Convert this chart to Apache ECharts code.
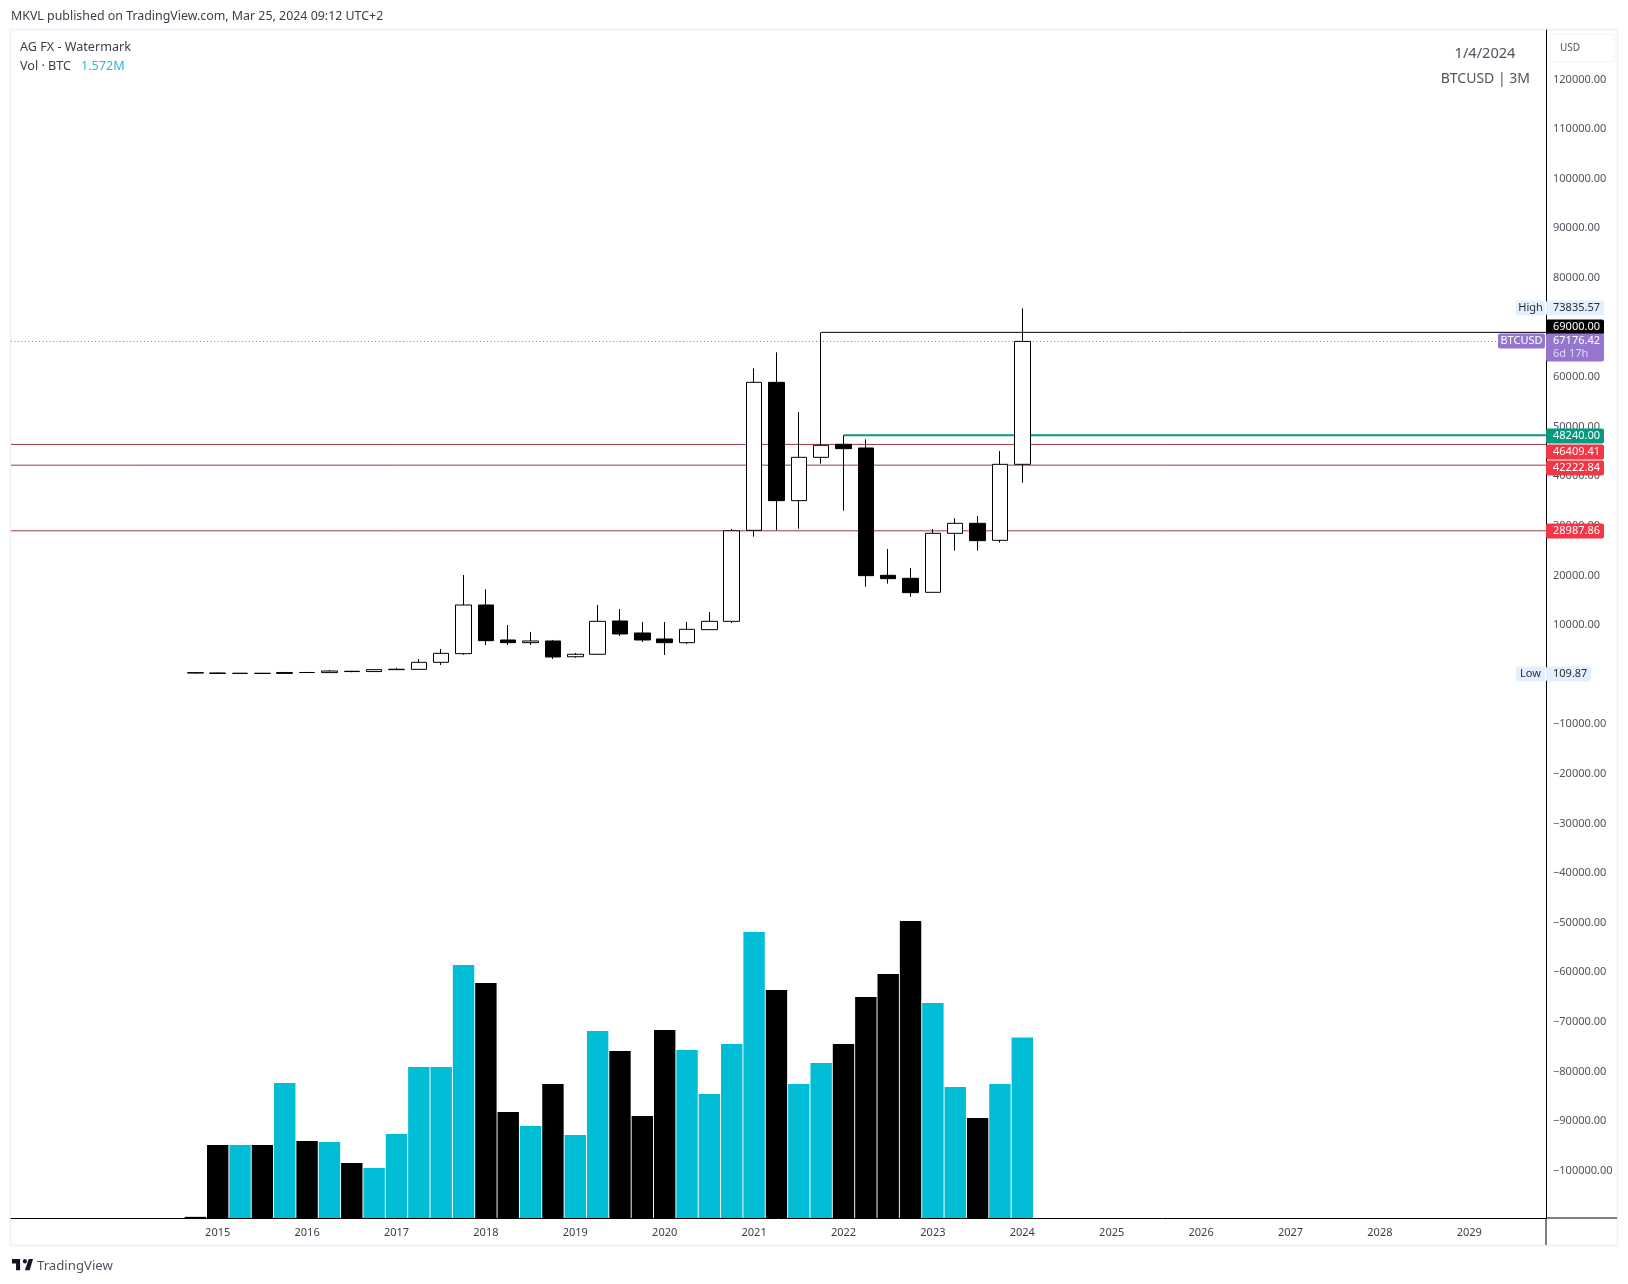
<!DOCTYPE html>
<html>
<head>
<meta charset="utf-8">
<title>BTCUSD 3M</title>
<script src="https://cdn.jsdelivr.net/npm/echarts@6/dist/echarts.min.js"></script>
<style>
  html, body { margin: 0; padding: 0; background: #fff; }
  #main { width: 1628px; height: 1284px; }
</style>
</head>
<body>
<div id="main"></div>
<script>
// quarters as decimal years, 2014.75 is Q4 2014
const quarters = [
  2014.75,
  2015, 2015.25, 2015.5, 2015.75,
  2016, 2016.25, 2016.5, 2016.75,
  2017, 2017.25, 2017.5, 2017.75,
  2018, 2018.25, 2018.5, 2018.75,
  2019, 2019.25, 2019.5, 2019.75,
  2020, 2020.25, 2020.5, 2020.75,
  2021, 2021.25, 2021.5, 2021.75,
  2022, 2022.25, 2022.5, 2022.75,
  2023, 2023.25, 2023.5, 2023.75,
  2024
]

const opens = [
  380, 320, 245, 265, 236, 430, 400, 670, 610, 1000, 1063, 2475, 4222,
  14033, 6977, 6440, 6775, 3600, 4100, 10807, 8389, 7179, 6440, 9060,
  10740, 29089, 58926, 35070, 43806, 46426, 45687, 20017, 19412,
  16590, 28484, 30500, 27073, 42394
]
const closes = [
  320, 245, 265, 236, 430, 416, 720, 610, 1000, 1080, 2475, 4289, 14033,
  6843, 6440, 6775, 3550, 4100, 10740, 8187, 6977, 6440, 9127, 10740,
  29000, 58926, 35070, 43806, 46225, 45552, 19950, 19345, 16522,
  28484, 30500, 27006, 42394, 67176
]
const lows = [
  250, 180, 200, 200, 210, 360, 360, 480, 590, 880, 1000, 1940, 4000,
  5969, 5969, 5969, 3147, 3400, 3950, 7784, 6574, 3953, 6170, 9060,
  10400, 27812, 29089, 29425, 42528, 33054, 17731, 18337, 15716,
  16590, 24990, 24990, 26602, 38698
]
const highs = [
  480, 430, 300, 320, 470, 470, 930, 770, 1100, 1350, 3147, 5163, 20081,
  17191, 10001, 8590, 6977, 4356, 14033, 13227, 10606, 10606, 10606, 12622,
  29358, 61748, 64974, 52945, 69000, 48240, 47435, 25326, 21495,
  29358, 31508, 31978, 45082, 73835
]

// volume in millions, the last one is the 1.572M from the legend
const volumes = [
  0.01, 0.636, 0.636, 0.636, 1.176, 0.671, 0.662, 0.479, 0.436, 0.732,
  1.316, 1.316, 2.205, 2.048, 0.924, 0.802, 1.168, 0.723, 1.63, 1.455,
  0.889, 1.638, 1.464, 1.081, 1.516, 2.492, 1.987, 1.168, 1.351, 1.516,
  1.926, 2.126, 2.588, 1.874, 1.142, 0.871, 1.168, 1.572
]

const yearTicks = [2015, 2016, 2017, 2018, 2019, 2020, 2021, 2022, 2023, 2024, 2025, 2026, 2027, 2028, 2029]
const priceTicks = [
  120000, 110000, 100000, 90000, 80000, 60000, 50000, 40000, 30000, 20000, 10000,
  -10000, -20000, -30000, -40000, -50000, -60000, -70000, -80000, -90000, -100000
]

const redLevels = [46409.41, 42222.84, 28987.86]
const resistance = 69000
const resistanceFrom = 2021.75
const support = 48240
const supportFrom = 2022
const lastPrice = 67176.42
const highPrice = 73835.57
const lowPrice = 109.87

const xMin = 2012.688
const xMax = 2029.858
const yMin = -109556
const yMax = 129960
const volMax = 10.352

const black = "#000000"
const cyan = "#00bcd4"
const red = "#9c3a44"
const tagRed = "#f23645"
const green = "#089981"
const purple = "#9575cd"
const pale = "#e3effd"
const panelEdge = "#f0f3fa"
const textColor = "#3a3e49"
const font = "'Noto Sans', sans-serif"

const money = v => v.toFixed(2)

// [price, text, side text, second line, bg, fg, offset from the price, box width]
const tags = [
  [highPrice, money(highPrice), "High", "", pale, "#2a2e39", 0, 58],
  [resistance, money(resistance), "", "", black, "#ffffff", -5.5, 58],
  [lastPrice, money(lastPrice), "BTCUSD", "6d 17h", purple, "#ffffff", 0, 58],
  [support, money(support), "", "", green, "#ffffff", 1, 58],
  [redLevels[0], money(redLevels[0]), "", "", tagRed, "#ffffff", 7.5, 58],
  [redLevels[1], money(redLevels[1]), "", "", tagRed, "#ffffff", 2.5, 58],
  [redLevels[2], money(redLevels[2]), "", "", tagRed, "#ffffff", 0, 58],
  [lowPrice, money(lowPrice), "Low", "", pale, "#2a2e39", 0, 45]
]

const renderTag = (params, api) => {
  const t = tags[params.dataIndex]
  const p = api.coord([xMax, t[0]])
  const x = Math.round(p[0])
  const cy = Math.round(p[1] + t[6])
  const two = !!t[3]
  const h = two ? 28 : 15
  const top = cy - 7.5
  const kids = [
    { type: "rect", shape: { x: x, y: top, width: t[7], height: h, r: 2 }, style: { fill: t[4] } },
    { type: "text", style: { x: x + 7, y: cy, text: t[1], fill: t[5], font: "11px " + font, textVerticalAlign: "middle" } }
  ]
  if (two) {
    kids.push({ type: "text", style: { x: x + 7, y: cy + 13, text: t[3], fill: "#e3d9f5", font: "11px " + font, textVerticalAlign: "middle" } })
  }
  if (t[2]) {
    const w = t[2] === "BTCUSD" ? 47 : 29
    kids.push({ type: "rect", shape: { x: x - w - 1, y: top, width: w, height: 15, r: 2 }, style: { fill: t[4] } })
    kids.push({ type: "text", style: { x: x - w / 2 - 1, y: cy, text: t[2], fill: t[5], font: "11px " + font, textAlign: "center", textVerticalAlign: "middle" } })
  }
  return { type: "group", children: kids }
}

const levelLine = (name, from, level, color, width, type) => ({
  name: name,
  type: "line",
  xAxisIndex: 0,
  yAxisIndex: 0,
  z: 1,
  silent: true,
  symbol: "none",
  animation: false,
  lineStyle: { color: color, width: width, type: type || "solid" },
  data: [[from, level], [xMax, level]]
})

const chart = echarts.init(document.getElementById("main"))

chart.setOption({
  animation: false,
  backgroundColor: "#ffffff",
  textStyle: { fontFamily: font },
  grid: { left: 11, top: 30, width: 1535, height: 1188, containLabel: false },
  xAxis: {
    type: "value",
    min: xMin,
    max: xMax,
    splitLine: { show: false },
    axisLine: { show: true, onZero: false, lineStyle: { color: black, width: 1 } },
    axisTick: { show: false },
    axisLabel: {
      customValues: yearTicks,
      formatter: v => String(Math.round(v)),
      color: textColor,
      fontSize: 11,
      margin: 9
    }
  },
  yAxis: [
    {
      type: "value",
      position: "right",
      min: yMin,
      max: yMax,
      splitLine: { show: false },
      axisLine: { show: true, onZero: false, lineStyle: { color: black, width: 1 } },
      axisTick: { show: false },
      axisLabel: {
        customValues: priceTicks,
        formatter: v => money(v).replace("-", "\u2212"),
        color: "#50535e",
        fontSize: 11,
        margin: 7,
        align: "left"
      }
    },
    { type: "value", min: 0, max: volMax, show: false }
  ],
  series: [
    {
      name: "Vol",
      type: "bar",
      xAxisIndex: 0,
      yAxisIndex: 1,
      z: 1,
      barWidth: 21.4,
      data: quarters.map((q, i) => ({
        value: [q, volumes[i]],
        itemStyle: { color: closes[i] >= opens[i] ? cyan : black }
      }))
    },
    levelLine("last", xMin, lastPrice, "#787b86", 1, [1, 2.5]),
    levelLine("r1", xMin, redLevels[0], red, 1),
    levelLine("r2", xMin, redLevels[1], red, 1),
    levelLine("r3", xMin, redLevels[2], red, 1),
    levelLine("support", supportFrom, support, green, 2),
    levelLine("resistance", resistanceFrom, resistance, black, 1),
    {
      name: "BTCUSD",
      type: "candlestick",
      xAxisIndex: 0,
      yAxisIndex: 0,
      z: 3,
      barWidth: 16,
      encode: { x: 0, y: [1, 2, 3, 4] },
      itemStyle: { color: "#ffffff", color0: black, borderColor: black, borderColor0: black, borderWidth: 1 },
      data: quarters.map((q, i) => [q, opens[i], closes[i], lows[i], highs[i]])
    },
    {
      name: "tags",
      type: "custom",
      xAxisIndex: 0,
      yAxisIndex: 0,
      z: 20,
      clip: false,
      silent: true,
      renderItem: renderTag,
      encode: { x: 0, y: 1 },
      data: tags.map(t => [xMax, t[0]])
    }
  ],
  graphic: [
    // panel frame
    { type: "rect", z: -1, shape: { x: 10.5, y: 29.5, width: 1607, height: 1216 }, style: { fill: "none", stroke: panelEdge, lineWidth: 2 } },
    // axes run on past the plot area
    { type: "line", shape: { x1: 1546, y1: 1218, x2: 1617, y2: 1218 }, style: { stroke: black, lineWidth: 1 } },
    { type: "line", shape: { x1: 1546, y1: 1218, x2: 1546, y2: 1245 }, style: { stroke: black, lineWidth: 1 } },
    // currency button
    { type: "rect", shape: { x: 1550, y: 34, width: 65, height: 28, r: 4 }, style: { fill: "#ffffff", stroke: panelEdge, lineWidth: 1 } },
    { type: "text", style: { x: 1560, y: 48, text: "USD", fill: "#50535e", font: "10px " + font, textVerticalAlign: "middle" } },
    // header and legend
    { type: "text", style: { x: 11, y: 16.5, text: "MKVL published on TradingView.com, Mar 25, 2024 09:12 UTC+2", fill: textColor, font: "12.4px " + font, textVerticalAlign: "middle" } },
    { type: "text", style: { x: 20, y: 47.5, text: "AG FX - Watermark", fill: textColor, font: "12.6px " + font, textVerticalAlign: "middle" } },
    { type: "text", style: { x: 20, y: 66.5, text: "Vol \u00b7 BTC", fill: textColor, font: "12.6px " + font, textVerticalAlign: "middle" } },
    { type: "text", style: { x: 81, y: 66.5, text: "1.572M", fill: "#26bcd0", font: "12.6px " + font, textVerticalAlign: "middle" } },
    // watermark text
    { type: "text", style: { x: 1485, y: 54, text: "1/4/2024", fill: "#50535e", font: "14.6px " + font, textAlign: "center", textVerticalAlign: "middle" } },
    { type: "text", style: { x: 1530, y: 79, text: "BTCUSD | 3M", fill: "#50535e", font: "14px " + font, textAlign: "right", textVerticalAlign: "middle" } },
    // footer logo
    {
      type: "group",
      x: 10.6,
      y: 1254.5,
      scaleX: 0.68,
      scaleY: 0.75,
      children: [
        { type: "polygon", shape: { points: [[2, 6], [14, 6], [14, 21], [8, 21], [8, 12], [2, 12]] }, style: { fill: "#131722" } },
        { type: "polygon", shape: { points: [[21, 21], [28, 21], [33, 6], [26.6, 6]] }, style: { fill: "#131722" } },
        { type: "circle", shape: { cx: 21, cy: 9, r: 3 }, style: { fill: "#131722" } }
      ]
    },
    { type: "text", style: { x: 37, y: 1266, text: "TradingView", fill: "#50535e", font: "13.2px " + font, textVerticalAlign: "middle" } }
  ]
})
</script>
</body>
</html>
